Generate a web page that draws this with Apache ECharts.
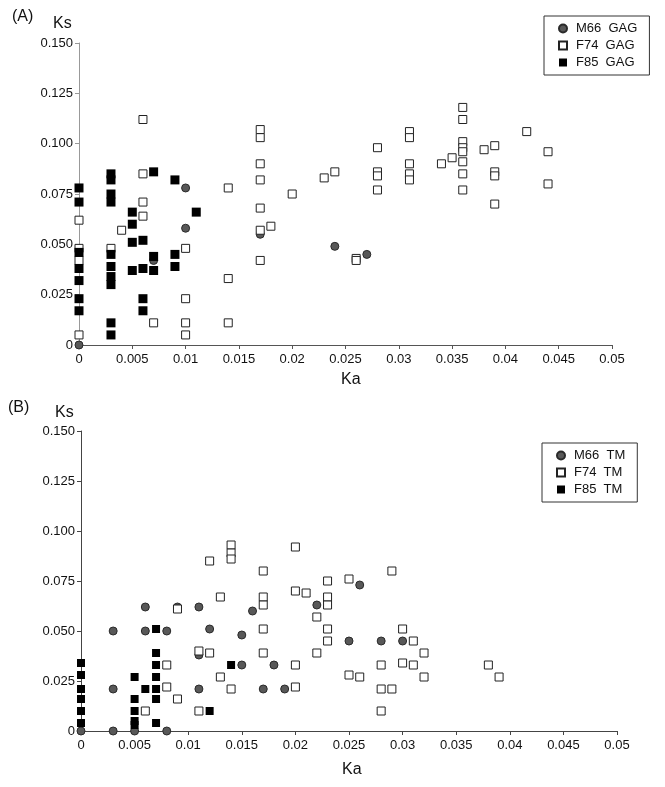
<!DOCTYPE html>
<html>
<head>
<meta charset="utf-8">
<script src="https://cdn.jsdelivr.net/npm/echarts@6/dist/echarts.min.js"></script>
<style>
html,body{margin:0;padding:0;background:#fff;}
#chart{width:665px;height:787px;}
</style>
</head>
<body>
<div id="chart"></div>
<script>
// ---- Data ----
const seriesNamesA = ['M66  GAG', 'F74  GAG', 'F85  GAG'];
const seriesNamesB = ['M66  TM', 'F74  TM', 'F85  TM'];

const xTicks = [0, 0.005, 0.01, 0.015, 0.02, 0.025, 0.03, 0.035, 0.04, 0.045, 0.05];
const xTickLabels = ['0', '0.005', '0.01', '0.015', '0.02', '0.025', '0.03', '0.035', '0.04', '0.045', '0.05'];
const yTicks = [0, 0.025, 0.05, 0.075, 0.1, 0.125, 0.15];
const yTickLabels = ['0', '0.025', '0.050', '0.075', '0.100', '0.125', '0.150'];

// Panel A: GAG  [Ka, Ks]
const m66GAG = [[0,0],[0.007,0.042],[0.01,0.078],[0.01,0.058],[0.017,0.055],[0.024,0.049],[0.027,0.045]];
const f74GAG = [
  [0,0.062],[0,0.048],[0,0.042],[0,0.005],
  [0.003,0.048],[0.004,0.057],
  [0.006,0.112],[0.006,0.085],[0.006,0.071],[0.006,0.064],
  [0.007,0.011],
  [0.01,0.048],[0.01,0.023],[0.01,0.011],[0.01,0.005],
  [0.014,0.078],[0.014,0.033],[0.014,0.011],
  [0.017,0.107],[0.017,0.103],[0.017,0.090],[0.017,0.082],[0.017,0.068],[0.017,0.057],[0.017,0.042],
  [0.018,0.059],[0.02,0.075],[0.023,0.083],[0.024,0.086],
  [0.026,0.043],[0.026,0.042],
  [0.028,0.098],[0.028,0.086],[0.028,0.084],[0.028,0.077],
  [0.031,0.106],[0.031,0.103],[0.031,0.090],[0.031,0.085],[0.031,0.082],
  [0.034,0.090],[0.035,0.093],
  [0.036,0.118],[0.036,0.112],[0.036,0.101],[0.036,0.098],[0.036,0.096],[0.036,0.091],[0.036,0.085],[0.036,0.077],
  [0.038,0.097],
  [0.039,0.099],[0.039,0.086],[0.039,0.084],[0.039,0.070],
  [0.042,0.106],[0.044,0.096],[0.044,0.080]
];
const f85GAG = [
  [0,0.078],[0,0.071],[0,0.046],[0,0.038],[0,0.032],[0,0.023],[0,0.017],
  [0.003,0.085],[0.003,0.082],[0.003,0.075],[0.003,0.071],[0.003,0.045],[0.003,0.039],[0.003,0.034],[0.003,0.030],[0.003,0.011],[0.003,0.005],
  [0.005,0.066],[0.005,0.060],[0.005,0.051],[0.005,0.037],
  [0.006,0.052],[0.006,0.038],[0.006,0.023],[0.006,0.017],
  [0.007,0.086],[0.007,0.044],[0.007,0.037],
  [0.009,0.082],[0.009,0.045],[0.009,0.039],
  [0.011,0.066]
];

// Panel B: TM  [Ka, Ks]
const m66TM = [
  [0,0],[0.003,0.050],[0.003,0.021],[0.003,0],[0.005,0],
  [0.006,0.062],[0.006,0.050],[0.008,0.050],[0.008,0],[0.009,0.062],
  [0.011,0.062],[0.011,0.038],[0.011,0.021],[0.012,0.051],
  [0.015,0.048],[0.015,0.033],[0.016,0.060],[0.017,0.021],[0.018,0.033],[0.019,0.021],
  [0.022,0.063],[0.025,0.045],[0.026,0.073],[0.028,0.045],[0.030,0.045]
];
const f74TM = [
  [0.006,0.010],[0.008,0.033],[0.008,0.022],[0.009,0.061],[0.009,0.016],
  [0.011,0.040],[0.011,0.010],[0.012,0.085],[0.012,0.039],[0.013,0.067],[0.013,0.027],
  [0.014,0.093],[0.014,0.089],[0.014,0.086],[0.014,0.021],
  [0.017,0.080],[0.017,0.067],[0.017,0.063],[0.017,0.051],[0.017,0.039],
  [0.020,0.092],[0.020,0.070],[0.020,0.033],[0.020,0.022],[0.021,0.069],
  [0.022,0.057],[0.022,0.039],
  [0.023,0.075],[0.023,0.067],[0.023,0.063],[0.023,0.051],[0.023,0.045],
  [0.025,0.076],[0.025,0.028],[0.026,0.027],
  [0.028,0.033],[0.028,0.021],[0.028,0.010],[0.029,0.080],[0.029,0.021],
  [0.030,0.051],[0.030,0.034],[0.031,0.045],[0.031,0.033],[0.032,0.039],[0.032,0.027],
  [0.038,0.033],[0.039,0.027]
];
const f85TM = [
  [0,0.034],[0,0.028],[0,0.021],[0,0.016],[0,0.010],[0,0.004],
  [0.005,0.027],[0.005,0.016],[0.005,0.010],[0.005,0.005],[0.005,0.003],
  [0.006,0.021],
  [0.007,0.051],[0.007,0.039],[0.007,0.033],[0.007,0.027],[0.007,0.021],[0.007,0.016],[0.007,0.004],
  [0.012,0.010],[0.014,0.033]
];

// ---- Chart ----
const FONT = '"Liberation Sans", Arial, sans-serif';
function labelFor(ticks, labels) {
  return function (v) {
    let best = 0, bd = Infinity;
    ticks.forEach((t, i) => { const d = Math.abs(t - v); if (d < bd) { bd = d; best = i; } });
    return labels[best];
  };
}
function xAxisCfg(gridIndex, lineColor) {
  return {
    type: 'value', gridIndex, min: 0, max: 0.05, interval: 0.005,
    axisLine: { show: true, lineStyle: { color: lineColor, width: 1 } },
    axisTick: { show: true, length: 4, lineStyle: { color: lineColor } },
    splitLine: { show: false },
    axisLabel: { formatter: labelFor(xTicks, xTickLabels), color: '#111', fontSize: 13, fontFamily: FONT, margin: 8 }
  };
}
function yAxisCfg(gridIndex, lineColor) {
  return {
    type: 'value', gridIndex, min: 0, max: 0.15, interval: 0.025,
    axisLine: { show: true, onZero: false, lineStyle: { color: lineColor, width: 1 } },
    axisTick: { show: true, length: 4, lineStyle: { color: lineColor } },
    splitLine: { show: false },
    axisLabel: { formatter: labelFor(yTicks, yTickLabels), color: '#111', fontSize: 13, fontFamily: FONT, margin: 6 }
  };
}
const circleStyle = { color: '#585858', borderColor: '#2a2a2a', borderWidth: 1, opacity: 1 };
const openStyle = { color: '#ffffff', borderColor: '#222', borderWidth: 1, opacity: 1 };
const blackStyle = { color: '#000000', borderColor: '#000', borderWidth: 0, opacity: 1 };

function mk(name, data, idx, symbol, size, style) {
  return { name, type: 'scatter', xAxisIndex: idx, yAxisIndex: idx, data, symbol, symbolSize: size, itemStyle: style, emphasis: { disabled: true }, animation: false };
}

function legendCfg(names, left, top) {
  return {
    data: names, left, top, orient: 'vertical',
    backgroundColor: '#fff', borderColor: '#333', borderWidth: 1, borderRadius: 0,
    padding: [6, 12, 6, 14], itemGap: 4, itemWidth: 8, itemHeight: 8,
    textStyle: { fontSize: 13, fontFamily: FONT, color: '#111', padding: [0, 0, 0, 4] },
    selectedMode: false
  };
}

const option = {
  backgroundColor: '#fff',
  animation: false,
  grid: [
    { left: 79, right: 53, top: 43, height: 302 },
    { left: 81, right: 48, top: 431, height: 300 }
  ],
  xAxis: [xAxisCfg(0, '#555'), xAxisCfg(1, '#444')],
  yAxis: [yAxisCfg(0, '#999'), yAxisCfg(1, '#444')],
  legend: [legendCfg(seriesNamesA, 544, 16), legendCfg(seriesNamesB, 542, 443)],
  series: [
    mk(seriesNamesA[0], m66GAG, 0, 'circle', 8, circleStyle),
    mk(seriesNamesA[1], f74GAG, 0, 'rect', 8, openStyle),
    mk(seriesNamesA[2], f85GAG, 0, 'rect', 9, blackStyle),
    mk(seriesNamesB[0], m66TM, 1, 'circle', 8, circleStyle),
    mk(seriesNamesB[1], f74TM, 1, 'rect', 8, openStyle),
    mk(seriesNamesB[2], f85TM, 1, 'rect', 8, blackStyle)
  ],
  graphic: [
    { type: 'text', left: 12, top: 9, style: { text: '(A)', fontSize: 16, fontFamily: FONT, fill: '#111' } },
    { type: 'text', left: 53, top: 16, style: { text: 'Ks', fontSize: 16, fontFamily: FONT, fill: '#111' } },
    { type: 'text', left: 341, top: 372, style: { text: 'Ka', fontSize: 16, fontFamily: FONT, fill: '#111' } },
    { type: 'text', left: 8, top: 400, style: { text: '(B)', fontSize: 16, fontFamily: FONT, fill: '#111' } },
    { type: 'text', left: 55, top: 405, style: { text: 'Ks', fontSize: 16, fontFamily: FONT, fill: '#111' } },
    { type: 'text', left: 342, top: 762, style: { text: 'Ka', fontSize: 16, fontFamily: FONT, fill: '#111' } }
  ]
};
const chart = echarts.init(document.getElementById('chart'), null, { renderer: 'canvas' });
chart.setOption(option);
</script>
</body>
</html>
